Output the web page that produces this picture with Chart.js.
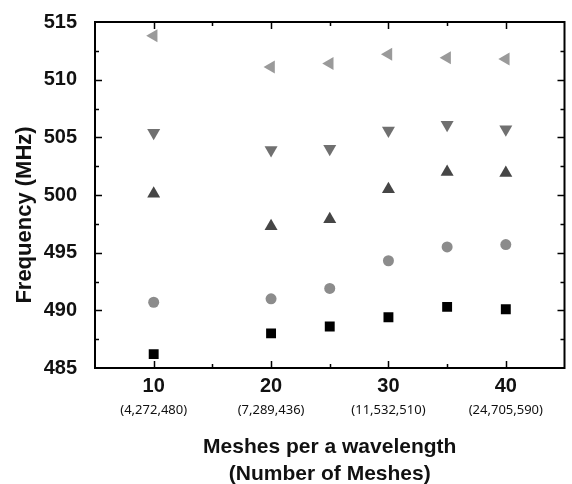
<!DOCTYPE html>
<html>
<head>
<meta charset="utf-8">
<script src="https://cdn.jsdelivr.net/npm/chart.js@4/dist/chart.umd.min.js"></script>
<style>
  html, body { margin: 0; padding: 0; background: #fff; }
  #wrap { width: 572px; height: 484px; position: relative; }
</style>
</head>
<body>
<div id="wrap"><canvas id="chart"></canvas></div>
<script>
    // ─── Data ─────────────────────────────────────────────────────
    const MESHES = [10, 20, 25, 30, 35, 40];
    const TICK_X = [10, 20, 30, 40];
    const TICK_SUB = ['(4,272,480)', '(7,289,436)', '(11,532,510)', '(24,705,590)'];
    const Y_TITLE = 'Frequency (MHz)';

    const SQUARE = [486.2, 488.0, 488.6, 489.4, 490.3, 490.1];
    const CIRCLE = [490.7, 491.0, 491.9, 494.3, 495.5, 495.7];
    const TRI_UP = [500.1, 497.3, 497.9, 500.5, 502.0, 501.9];
    const TRI_DOWN = [505.4, 503.9, 504.0, 505.6, 506.1, 505.7];
    const TRI_LEFT = [513.8, 511.1, 511.4, 512.2, 511.9, 511.8];

    const FONT = '"Liberation Sans", Arial, sans-serif';

    const pts = (ys) => MESHES.map((x, i) => ({ x, y: ys[i] }));

    function series(label, ys, color, style, radius, rotation) {
        return {
            label,
            data: pts(ys),
            pointStyle: style,
            pointRadius: radius,
            pointHoverRadius: radius,
            pointRotation: rotation,
            backgroundColor: color,
            borderColor: color,
            borderWidth: 0,
            showLine: false,
        };
    }

    // frame + inward ticks + mesh-count sub labels + y title
    const framePlugin = {
        id: 'frame',
        afterDraw(chart) {
            const { ctx, chartArea: a, scales } = chart;
            const xs = scales.x, ys = scales.y;
            ctx.save();
            ctx.strokeStyle = '#000';
            ctx.lineWidth = 2;
            ctx.strokeRect(a.left, a.top, a.right - a.left, a.bottom - a.top);

            ctx.lineWidth = 1.5;
            ctx.beginPath();
            for (let v = 10; v <= 40; v += 5) {
                const px = Math.round(xs.getPixelForValue(v)) + 0.5;
                const len = v % 10 === 0 ? 7 : 4;
                ctx.moveTo(px, a.bottom); ctx.lineTo(px, a.bottom - len);
                ctx.moveTo(px, a.top); ctx.lineTo(px, a.top + len);
            }
            for (let v = 487.5; v < 515; v += 2.5) {
                const py = Math.round(ys.getPixelForValue(v)) + 0.5;
                const len = v % 5 === 0 ? 7 : 4;
                ctx.moveTo(a.left, py); ctx.lineTo(a.left + len, py);
                ctx.moveTo(a.right, py); ctx.lineTo(a.right - len, py);
            }
            ctx.stroke();

            ctx.fillStyle = '#111';
            ctx.font = '13px "Noto Sans", sans-serif';
            ctx.textAlign = 'center';
            ctx.textBaseline = 'middle';
            TICK_X.forEach((v, i) => {
                ctx.fillText(TICK_SUB[i], xs.getPixelForValue(v), a.bottom + 42);
            });

            ctx.translate(25, 215);
            ctx.rotate(-Math.PI / 2);
            ctx.font = `bold 22px ${FONT}`;
            ctx.fillText(Y_TITLE, 0, 0);
            ctx.restore();
        },
    };

    new Chart(document.getElementById('chart'), {
        type: 'scatter',
        data: {
            datasets: [
                series('Square', SQUARE, '#000000', 'rect', 7, 0),
                series('Circle', CIRCLE, '#8c8c8c', 'circle', 5.5, 0),
                series('Up', TRI_UP, '#464646', 'triangle', 7.5, 0),
                series('Down', TRI_DOWN, '#707070', 'triangle', 7.5, 180),
                series('Left', TRI_LEFT, '#9a9a9a', 'triangle', 7.5, 270),
            ],
        },
        options: {
            responsive: true,
            maintainAspectRatio: false,
            animation: false,
            layout: { padding: { top: 20, right: 5, left: 0, bottom: 0 } },
            plugins: { legend: { display: false }, tooltip: { enabled: false } },
            elements: { point: { borderWidth: 0 } },
            scales: {
                x: {
                    type: 'linear',
                    min: 5,
                    max: 45,
                    afterBuildTicks: (s) => { s.ticks = TICK_X.map((v) => ({ value: v })); },
                    afterFit: (s) => { s.height = 116; },
                    grid: { display: false },
                    border: { display: false },
                    ticks: { color: '#111', padding: -2, font: { family: FONT, size: 20, weight: 'bold' } },
                    title: {
                        display: true,
                        text: ['Meshes per a wavelength', '(Number of Meshes)'],
                        color: '#111',
                        padding: { top: 0, bottom: -4 },
                        font: { family: FONT, size: 21, weight: 'bold', lineHeight: 1.29 },
                    },
                },
                y: {
                    min: 485,
                    max: 515,
                    afterFit: (s) => { s.width = 95; },
                    grid: { display: false },
                    border: { display: false },
                    ticks: { stepSize: 5, color: '#111', padding: 10, font: { family: FONT, size: 20, weight: 'bold' } },
                    title: { display: false },
                },
            },
        },
        plugins: [framePlugin],
    });
</script>
</body>
</html>
